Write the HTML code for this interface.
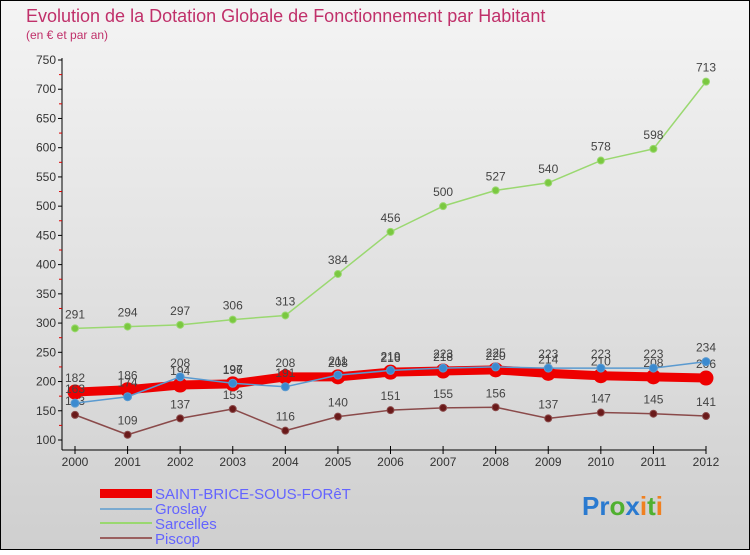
<!DOCTYPE html>
<html><head><meta charset="utf-8"><style>
body{margin:0;width:750px;height:550px;overflow:hidden;font-family:"Liberation Sans",sans-serif}
svg text{font-family:"Liberation Sans",sans-serif}
</style></head><body>
<svg width="750" height="550" xmlns="http://www.w3.org/2000/svg">
<defs><linearGradient id="bg" x1="0" y1="0" x2="0" y2="1"><stop offset="0" stop-color="#f4f4f4"/><stop offset="1" stop-color="#cfcfcf"/></linearGradient></defs>
<rect x="0.5" y="0.5" width="749" height="549" fill="url(#bg)" stroke="#000"/>
<text x="26" y="22" font-size="18" fill="#c0306a">Evolution de la Dotation Globale de Fonctionnement par Habitant</text>
<text x="26" y="39" font-size="12" fill="#c0306a">(en € et par an)</text>
<g id="axes"></g><g id="series"></g>
<g>
<rect x="100" y="489" width="52" height="9" fill="#e00"/>
<text x="155" y="499" font-size="15" fill="#6464ff">SAINT-BRICE-SOUS-FORêT</text>
<rect x="100" y="508" width="52" height="2" fill="#7aaad0"/>
<text x="155" y="514" font-size="15" fill="#6464ff">Groslay</text>
<rect x="100" y="522" width="52" height="2" fill="#9ad870"/>
<text x="155" y="529" font-size="15" fill="#6464ff">Sarcelles</text>
<rect x="100" y="537" width="52" height="2" fill="#9a6060"/>
<text x="155" y="544" font-size="15" fill="#6464ff">Piscop</text>
</g>
<text x="582" y="515" font-size="26" font-weight="bold"><tspan fill="#2a7ad0">Pr</tspan><tspan fill="#50b030">o</tspan><tspan fill="#2a7ad0">x</tspan><tspan fill="#f08020">i</tspan><tspan fill="#50b030">t</tspan><tspan fill="#f08020">i</tspan></text>
</svg>
<script>
const years=["2000","2001","2002","2003","2004","2005","2006","2007","2008","2009","2010","2011","2012"];
const yTicks=[100,150,200,250,300,350,400,450,500,550,600,650,700,750];
const saintBrice=[182,186,194,196,208,208,216,218,220,214,210,208,206];
const groslay=[163,174,208,197,191,211,219,223,225,223,223,223,234];
const sarcelles=[291,294,297,306,313,384,456,500,527,540,578,598,713];
const piscop=[143,109,137,153,116,140,151,155,156,137,147,145,141];
const NS="http://www.w3.org/2000/svg";
const xs=i=>75+i*(706-75)/(years.length-1);
const ys=v=>440-(v-100)*380/650;
function mk(t,a,p){const e=document.createElementNS(NS,t);for(const k in a)e.setAttribute(k,a[k]);p.appendChild(e);return e;}
const ax=document.getElementById('axes');
mk('line',{x1:62,y1:58,x2:62,y2:450,stroke:'#000'},ax);
mk('line',{x1:62,y1:450,x2:706,y2:450,stroke:'#000'},ax);
yTicks.forEach(v=>{
 const y=ys(v);
 mk('line',{x1:58,y1:y,x2:62,y2:y,stroke:'#000'},ax);
 if(v<750){const ym=ys(v+25);mk('line',{x1:59,y1:ym,x2:62,y2:ym,stroke:'#d00'},ax);}
 const t=mk('text',{x:56,y:y+4,'font-size':12,'text-anchor':'end',fill:'#333'},ax);
 
 
 t.textContent=v;
});
years.forEach((yr,i)=>{
 const x=xs(i);
 mk('line',{x1:x,y1:446,x2:x,y2:454,stroke:'#000'},ax);
 const t=mk('text',{x:x,y:466,'font-size':12,'text-anchor':'middle',fill:'#333'},ax);
 
 
 t.textContent=yr;
});
const sg=document.getElementById('series');
function series(name,data,color,w,r,dot,labels){
 const g=mk('g',{},sg);
 
 
 mk('polyline',{points:data.map((v,i)=>xs(i)+','+ys(v)).join(' '),fill:'none',stroke:color,'stroke-width':w,'stroke-linejoin':'round'},g);
 data.forEach((v,i)=>{
  const c=mk('circle',{cx:xs(i),cy:ys(v),r:r,fill:dot,stroke:color,'stroke-width':1},g);
  
  
  if(labels){const t=mk('text',{x:xs(i),y:ys(v)-10,'font-size':12,'text-anchor':'middle',fill:'#444'},g);
   
   
   t.textContent=v;}
 });
}
series('sarcelles',sarcelles,'#9ad870',1.5,3.5,'#7ac840',true);
series('piscop',piscop,'#8a4a4a',1.5,3.5,'#6a1a1a',true);
series('saint-brice',saintBrice,'#ee0000',9,7,'#ee0000',true);
series('groslay',groslay,'#5a9ad0',1.5,4,'#3a8ad0',true);
</script>
</body></html>
